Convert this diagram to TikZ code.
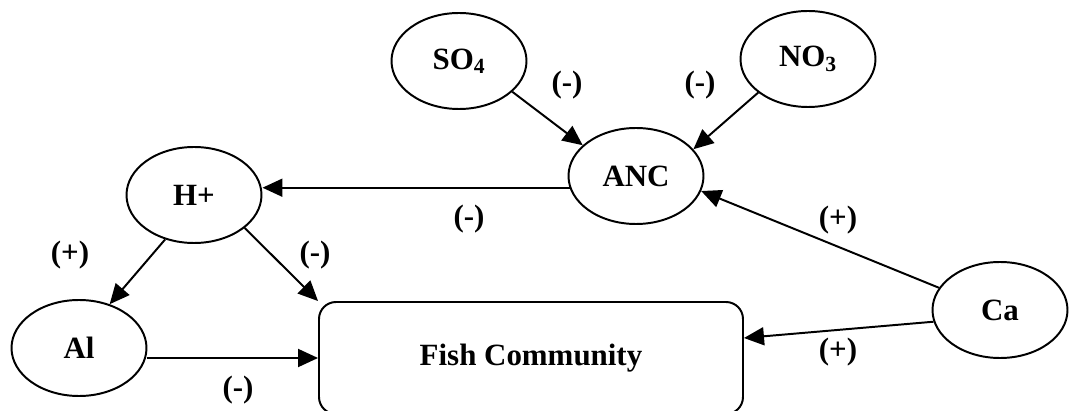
\documentclass[tikz,border=0pt]{standalone}
\usepackage{fontspec}
\setmainfont{Liberation Serif}
\usetikzlibrary{shapes.geometric,arrows.meta}

\begin{document}
\begin{tikzpicture}[
	every node/.style={font=\fontsize{22}{26}\selectfont\bfseries},
	vtx/.style={ellipse,draw=cv,fill=cfv,text=clv,line width=1.4pt,inner sep=0pt,minimum width=3.375cm,minimum height=2.4cm},
	box/.style={rectangle,rounded corners=0.425cm,draw=cv,fill=cfv,text=clv,line width=1.4pt,minimum width=10.6cm,minimum height=2.8cm},
	arr/.style={-{Triangle[length=0.5cm,width=0.45cm]},line width=1.4pt,color=ce},
	sgn/.style={text=clv,inner sep=0pt}]
				\definecolor{cv}{rgb}{0.0,0.0,0.0}
				\definecolor{cfv}{rgb}{1.0,1.0,1.0}
				\definecolor{clv}{rgb}{0.0,0.0,0.0}
				\definecolor{ce}{rgb}{0.0,0.0,0.0}
				\useasboundingbox (0,0) rectangle (26.75,10.275);
				%
				\node[vtx] (so4) at (11.475,8.75) {SO\textsubscript{4}};
				\node[vtx] (no3) at (20.2,8.8) {NO\textsubscript{3}};
				\node[vtx] (anc) at (15.9,5.875) {ANC};
				\node[vtx] (hplus) at (4.85,5.4) {H+};
				\node[vtx] (al) at (1.975,1.575) {Al};
				\node[vtx] (ca) at (25.0,2.525) {Ca};
				\node[box] (fish) at (13.275,1.325) {Fish Community};
				%
				\draw[arr] (so4.-30) -- (anc.150);
				\draw[arr] (no3.214) -- (anc.25);
				\draw[arr] (anc.190) -- (anc.190 -| hplus.east);
				\draw[arr] (ca.160) -- (anc.-13);
				\draw[arr] (ca.190) -- ([yshift=0.5cm]fish.east);
				\draw[arr] (hplus.237) -- (al.55);
				\draw[arr] (hplus.-33) -- (fish.north west);
				\draw[arr] (al.east |- fish.west) -- (fish.west);
				%
				\node[sgn] (s1) at (14.175,8.15) {(-)};
				\node[sgn] (s2) at (17.5,8.15) {(-)};
				\node[sgn] (s3) at (11.725,4.8) {(-)};
				\node[sgn] (s4) at (20.95,4.775) {(+)};
				\node[sgn] (s5) at (1.75,3.9) {(+)};
				\node[sgn] (s6) at (7.875,3.9) {(-)};
				\node[sgn] (s7) at (5.95,0.525) {(-)};
				\node[sgn] (s8) at (20.95,1.475) {(+)};
				%
			\end{tikzpicture}
\end{document}
